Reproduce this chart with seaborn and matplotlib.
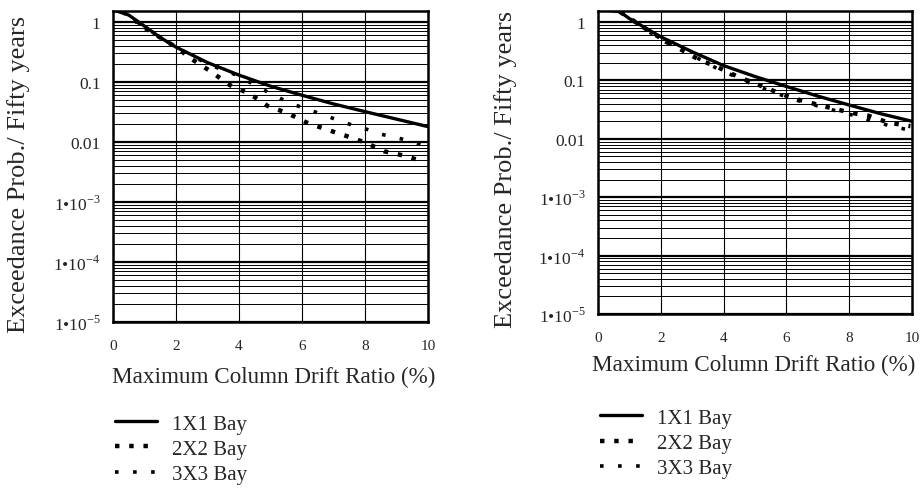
import numpy as np
import pandas as pd
import matplotlib
matplotlib.use("Agg")
import matplotlib.pyplot as plt
import matplotlib.ticker as mticker
import seaborn as sns

# data
left_x_1 = [0, 0.5, 1, 1.5, 2, 3, 4, 5, 6, 7, 8, 9, 10]
left_y_1 = [1.6, 1.3, 0.85, 0.55, 0.38, 0.21, 0.13, 0.085, 0.06, 0.043, 0.032, 0.024, 0.018]
left_x_2 = [0.3, 1, 1.5, 2, 2.5, 3.1, 3.7, 4.35, 4.9, 5.55, 6.15, 6.8, 7.4, 8.05, 8.6, 9.25, 9.8]
left_y_2 = [1.5, 0.8, 0.55, 0.38, 0.24, 0.15, 0.089, 0.063, 0.04, 0.03, 0.021, 0.016, 0.0126,
            0.0096, 0.007, 0.0059, 0.0048]
left_x_3 = [0.3, 1, 2, 3, 3.6, 4.0, 4.55, 5.35, 5.8, 6.7, 7.15, 7.6, 8.1, 8.5, 9.4, 9.85]
left_y_3 = [1.5, 0.82, 0.38, 0.2, 0.15, 0.126, 0.085, 0.052, 0.041, 0.028, 0.023, 0.019, 0.016,
            0.0135, 0.0105, 0.0087]

right_x_1 = [0, 0.7, 1, 1.5, 2, 3, 4, 5, 6, 7, 8, 9, 10]
right_y_1 = [1.7, 1.5, 1.15, 0.8, 0.56, 0.31, 0.18, 0.117, 0.079, 0.054, 0.038, 0.027, 0.02]
right_x_2 = [0.7, 1.5, 2, 2.6, 3.2, 3.8, 4.4, 5.0, 5.6, 6.2, 6.8, 7.4, 8.05, 8.6, 9.25, 9.95]
right_y_2 = [1.5, 0.78, 0.53, 0.35, 0.23, 0.17, 0.12, 0.089, 0.066, 0.05, 0.041, 0.034, 0.028,
             0.025, 0.019, 0.0165]
right_x_3 = [0.7, 1.5, 2, 3, 3.8, 4.4, 5.0, 6.2, 7.4, 8.05, 9.25, 9.95]
right_y_3 = [1.5, 0.76, 0.5, 0.27, 0.16, 0.115, 0.082, 0.048, 0.032, 0.026, 0.017, 0.014]

labels = ["1X1 Bay", "2X2 Bay", "3X3 Bay"]
ytick_vals = [1, 0.1, 0.01, 1e-3, 1e-4, 1e-5]
ytick_labels = ["1", "0.1", "0.01", "1\u202210$^{-3}$", "1\u202210$^{-4}$", "1\u202210$^{-5}$"]
xtick_vals = [0, 2, 4, 6, 8, 10]

sns.set_style("white")
plt.rcParams["font.family"] = ["Liberation Serif", "DejaVu Serif"]
plt.rcParams["mathtext.fontset"] = "custom"
plt.rcParams["mathtext.rm"] = "Liberation Serif"

fig = plt.figure(figsize=(9.23, 4.89), dpi=100)
ax1 = fig.add_axes([113/923, 166/489, 315/923, 311/489])
ax2 = fig.add_axes([598/923, 174/489, 314/923, 303/489])

styles = ["-", (0, (1, 2.2)), (0, (1, 4))]
widths = [2.4, 3.2, 2.6]


def draw(ax, series, ytop, lg_top, lg_left, ylab_x, xlab_xy):
    for (xs, ys), lab, ls, lw in zip(series, labels, styles, widths):
        df = pd.DataFrame({"x": xs, "y": ys})
        sns.lineplot(data=df, x="x", y="y", ax=ax, color="black", linestyle=ls,
                     linewidth=lw, label=lab)
    ax.set_yscale("log")
    ax.set_xlim(0, 10)
    ax.set_ylim(1e-5, ytop)
    ax.set_yticks(ytick_vals)
    ax.set_yticklabels(ytick_labels)
    for t in ax.get_yticklabels():
        if "$" in t.get_text():
            t.set_fontsize(14)
    ax.yaxis.set_minor_locator(mticker.LogLocator(base=10, subs=np.arange(2, 10)))
    ax.yaxis.set_minor_formatter(mticker.NullFormatter())
    ax.set_xticks(xtick_vals)
    ax.tick_params(axis="both", which="both", length=0)
    ax.tick_params(axis="y", labelsize=12.5, pad=9)
    ax.tick_params(axis="x", labelsize=11, pad=12)
    ax.grid(which="major", axis="y", color="black", linewidth=1.6)
    ax.grid(which="minor", axis="y", color="black", linewidth=0.7)
    ax.grid(which="major", axis="x", color="black", linewidth=0.8)
    for s in ax.spines.values():
        s.set_color("black")
        s.set_linewidth(1.8)
    ax.set_xlabel("Maximum Column Drift Ratio (%)", fontsize=16.7)
    ax.set_ylabel("Exceedance Prob./ Fifty years", fontsize=19)
    ax.xaxis.label.set_verticalalignment("center")
    ax.yaxis.label.set_verticalalignment("center")
    ax.xaxis.set_label_coords(*xlab_xy)
    ax.yaxis.set_label_coords(ylab_x, 0.479)
    ax.legend(loc="upper left", bbox_to_anchor=(lg_left, lg_top), bbox_transform=fig.transFigure,
              frameon=False, fontsize=15, handlelength=2.0, handletextpad=0.75,
              labelspacing=0.27, borderpad=0, borderaxespad=0)


draw(ax1, [(left_x_1, left_y_1), (left_x_2, left_y_2), (left_x_3, left_y_3)],
     1.52, 1 - 415/489, 115/923, -0.30, (0.51, -0.174))
draw(ax2, [(right_x_1, right_y_1), (right_x_2, right_y_2), (right_x_3, right_y_3)],
     1.55, 1 - 409/489, 600/923, -0.293, (0.497, -0.165))

fig.savefig("out.png", dpi=100)
